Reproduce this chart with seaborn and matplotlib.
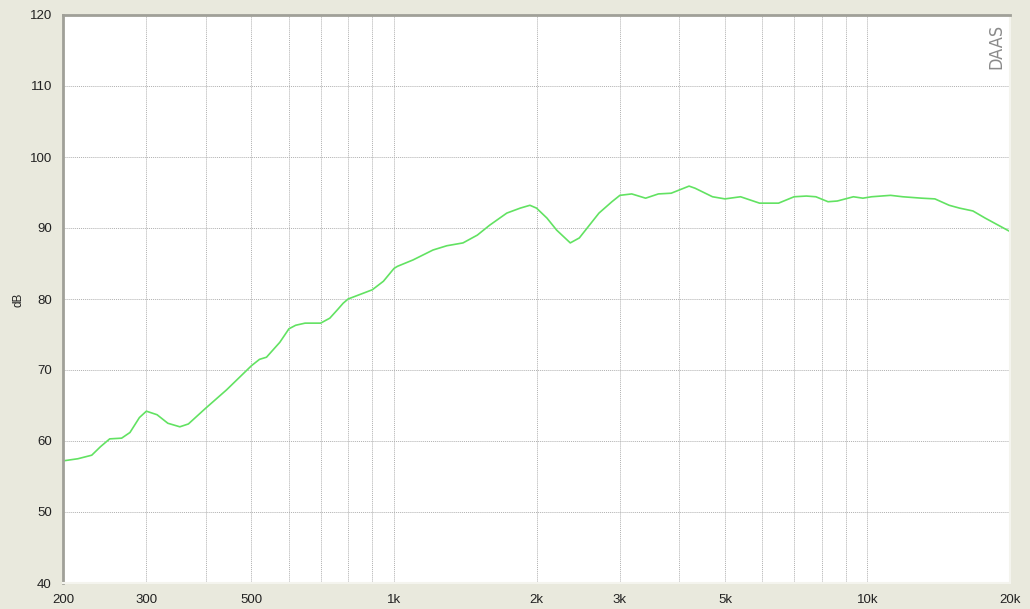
import matplotlib
matplotlib.use("Agg")
import matplotlib.pyplot as plt
import seaborn as sns
import pandas as pd
from matplotlib.ticker import FixedLocator, NullFormatter

# frequency response
freq_hz = [200, 215, 230, 240, 251, 266, 277, 290, 300, 316, 333, 353, 368, 400, 443,
           500, 520, 538, 574, 600, 620, 649, 700, 732, 760, 781, 800, 900, 950, 1000,
           1017, 1097, 1209, 1293, 1399, 1500, 1593, 1731, 1848, 1937, 2000, 2104,
           2206, 2357, 2463, 2710, 2886, 3000, 3178, 3400, 3618, 3850, 4200, 4325,
           4707, 5000, 5395, 5917, 6490, 7000, 7432, 7780, 8255, 8635, 9340, 9780,
           10200, 11190, 11870, 13020, 13880, 14880, 15650, 16700, 17720, 20000]
level_db = [57.2, 57.5, 58.0, 59.2, 60.3, 60.4, 61.2, 63.3, 64.2, 63.7, 62.5, 62.0,
            62.4, 64.6, 67.2, 70.6, 71.5, 71.8, 73.9, 75.8, 76.3, 76.6, 76.6, 77.3,
            78.5, 79.4, 80.0, 81.3, 82.5, 84.3, 84.6, 85.5, 86.9, 87.5, 87.9, 89.0,
            90.4, 92.1, 92.8, 93.2, 92.8, 91.4, 89.7, 87.9, 88.6, 92.1, 93.7, 94.6,
            94.8, 94.2, 94.8, 94.9, 95.9, 95.6, 94.4, 94.1, 94.4, 93.5, 93.5, 94.4,
            94.5, 94.4, 93.7, 93.8, 94.4, 94.2, 94.4, 94.6, 94.4, 94.2, 94.1, 93.2,
            92.8, 92.4, 91.4, 89.5]

x_ticks = [200, 300, 500, 1000, 2000, 3000, 5000, 10000, 20000]
x_tick_labels = ["200", "300", "500", "1k", "2k", "3k", "5k", "10k", "20k"]
x_grid = [200, 300, 400, 500, 600, 700, 800, 900, 1000, 2000, 3000, 4000,
          5000, 6000, 7000, 8000, 9000, 10000, 20000]
y_ticks = [40, 50, 60, 70, 80, 90, 100, 110, 120]

df = pd.DataFrame({"freq": freq_hz, "dB": level_db})

sns.set_style("white")
plt.rcParams["font.family"] = ["Liberation Sans", "DejaVu Sans"]

bg = "#e9e9dd"
fig = plt.figure(figsize=(10.3, 6.09), dpi=100, facecolor=bg)
ax = fig.add_axes([63 / 1030, 26 / 609, 947 / 1030, 568 / 609])
ax.set_facecolor("white")

sns.lineplot(data=df, x="freq", y="dB", ax=ax, color="#62e262", linewidth=1.2,
             estimator=None, sort=False)

ax.set_xscale("log")
ax.set_xlim(200, 20000)
ax.set_ylim(40, 120)

ax.xaxis.set_major_locator(FixedLocator(x_ticks))
ax.set_xticklabels(x_tick_labels)
ax.xaxis.set_minor_locator(FixedLocator([v for v in x_grid if v not in x_ticks]))
ax.xaxis.set_minor_formatter(NullFormatter())
ax.set_yticks(y_ticks)

grid_kw = dict(color="#b0b0b0", linestyle=(0, (1, 1)), linewidth=0.7)
ax.grid(True, which="both", axis="x", **grid_kw)
ax.grid(True, which="major", axis="y", **grid_kw)

ax.tick_params(axis="both", which="both", length=0, labelsize=9.5, colors="#222222")
ax.tick_params(axis="x", pad=8)
ax.tick_params(axis="y", pad=8)

ax.set_xlabel("")
ax.set_ylabel("")
fig.text(18 / 1030, 1 - 300 / 609, "dB", rotation=90, ha="center", va="center",
         fontsize=8.5, color="#222222")

for side in ["left", "top"]:
    ax.spines[side].set_color("#a0a098")
    ax.spines[side].set_linewidth(2)
for side in ["right", "bottom"]:
    ax.spines[side].set_color("#f4f4ee")
    ax.spines[side].set_linewidth(1.5)

ax.text(0.995, 0.985, "DAAS", transform=ax.transAxes, rotation=90,
        ha="right", va="top", fontsize=13, color="#8a8a8a",
        family=["DejaVu Sans"], fontweight="light", fontstretch="condensed")

fig.savefig("out.png", dpi=100, facecolor=bg)
